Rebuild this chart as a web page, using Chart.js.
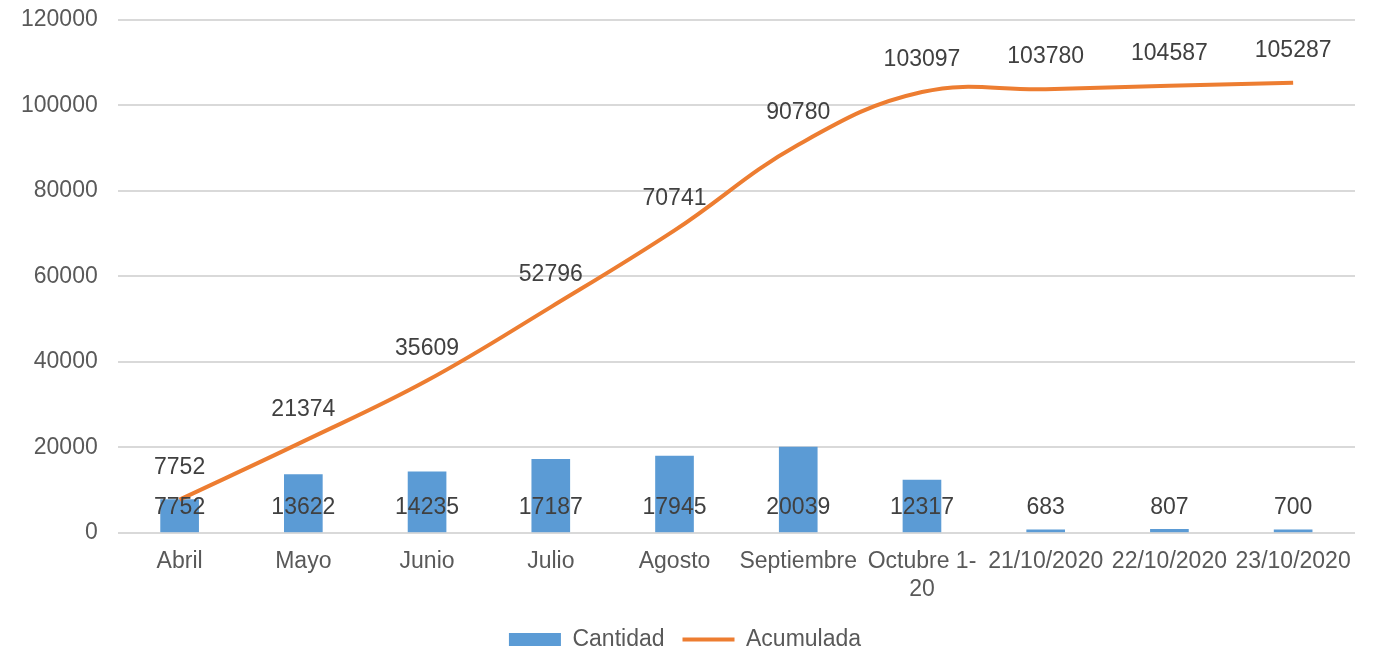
<!DOCTYPE html>
<html>
<head>
<meta charset="utf-8">
<script src="https://cdn.jsdelivr.net/npm/chart.js@4/dist/chart.umd.min.js"></script>
<style>
  body { margin: 0; background: #fff; }
  #wrap { width: 1378px; height: 651px; position: relative; }
</style>
</head>
<body>
<div id="wrap"><canvas id="grafico"></canvas></div>
<script>
const categorias = ['Abril', 'Mayo', 'Junio', 'Julio', 'Agosto', 'Septiembre', ['Octubre 1-', '20'], '21/10/2020', '22/10/2020', '23/10/2020'];
const cantidad = [7752, 13622, 14235, 17187, 17945, 20039, 12317, 683, 807, 700];
const acumulada = [7752, 21374, 35609, 52796, 70741, 90780, 103097, 103780, 104587, 105287];
const ticksY = [0, 20000, 40000, 60000, 80000, 100000, 120000];

const fuente = "'Liberation Sans', Arial, sans-serif";
Chart.defaults.font.family = fuente;
Chart.defaults.font.size = 23;
Chart.defaults.color = '#595959';

// etiquetas de datos (no hay plugin datalabels)
const etiquetas = {
    id: 'etiquetas',
    afterDraw(chart) {
        const ctx = chart.ctx;
        ctx.save();
        ctx.font = '23px ' + fuente;
        ctx.fillStyle = '#404040';
        ctx.textAlign = 'center';
        ctx.textBaseline = 'middle';
        chart.getDatasetMeta(0).data.forEach((bar, i) => {
            ctx.fillText(cantidad[i], bar.x, bar.base - 24);
        });
        chart.getDatasetMeta(1).data.forEach((pt, i) => {
            ctx.fillText(acumulada[i], pt.x, pt.y - 32);
        });
        ctx.restore();
    }
};

const grafico = new Chart(document.getElementById('grafico'), {
    type: 'bar',
    data: {
        labels: categorias,
        datasets: [
            {
                label: 'Cantidad',
                data: cantidad,
                backgroundColor: '#5B9BD5',
                barThickness: 38,
                pointStyle: 'rect',
                order: 1
            },
            {
                type: 'line',
                label: 'Acumulada',
                data: acumulada,
                borderColor: '#ED7D31',
                backgroundColor: '#ED7D31',
                borderWidth: 4,
                tension: 0.4,
                pointRadius: 0,
                pointStyle: 'line',
                order: 0
            }
        ]
    },
    options: {
        responsive: true,
        maintainAspectRatio: false,
        animation: false,
        layout: { padding: { left: 15, right: 23, top: 0, bottom: -10 } },
        scales: {
            x: {
                grid: { display: false },
                border: { display: false },
                ticks: { autoSkip: false, maxRotation: 0, padding: 7 }
            },
            y: {
                min: 0,
                max: 120000,
                afterBuildTicks: (axis) => { axis.ticks = ticksY.map(v => ({ value: v })); },
                grid: { color: '#d9d9d9', lineWidth: 2, tickLength: 14, tickColor: 'rgba(0,0,0,0)' },
                border: { display: false },
                ticks: { padding: 6, callback: (v) => String(v) }
            }
        },
        plugins: {
            legend: {
                position: 'bottom',
                labels: {
                    usePointStyle: true,
                    pointStyleWidth: 52,
                    boxHeight: 13,
                    padding: 18,
                    sort: (a, b) => a.datasetIndex - b.datasetIndex
                }
            },
            tooltip: { enabled: false }
        }
    },
    plugins: [etiquetas]
});
</script>
</body>
</html>
